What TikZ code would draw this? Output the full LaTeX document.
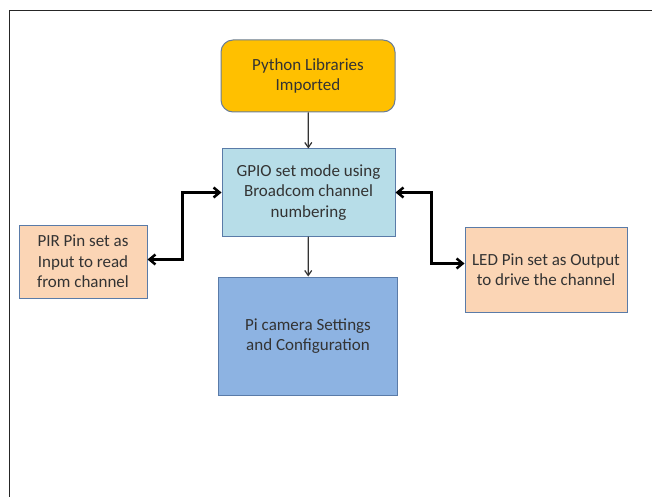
\documentclass[tikz,border=0pt]{standalone}
\usepackage{fontspec}
\setmainfont{Carlito}
\usepackage{tikz}
\usetikzlibrary{arrows.meta, positioning, calc, shapes}

\definecolor{pyorange}{HTML}{FFC000}
\definecolor{gpioblue}{HTML}{B7DDE8}
\definecolor{cameablue}{HTML}{8DB3E2}
\definecolor{pinpeach}{HTML}{FBD5B5}
\definecolor{boxedge}{HTML}{5A7BA8}
\definecolor{txtgray}{HTML}{333333}

\tikzset{
  block/.style={draw=boxedge, line width=1pt, align=center, inner sep=0pt,
    text=txtgray, font=\fontsize{17}{20.5}\selectfont},
  thinarrow/.style={draw=black!80, line width=1.2pt, -{Straight Barb[length=5pt,width=7pt]}},
  thickarrow/.style={draw=black, line width=2.5pt, {Straight Barb[length=6pt,width=10pt]}-{Straight Barb[length=6pt,width=10pt]}}
}

\begin{document}
\begin{tikzpicture}[x=1pt,y=-1pt]
\useasboundingbox (0,0) rectangle (652,497);
% page frame
\draw[line width=1.5pt, black!85] (9.5,497) -- (9.5,10.5) -- (652,10.5);

\node[block, fill=pyorange, draw=boxedge!60!gray, rounded corners=12pt, minimum width=174pt, minimum height=72pt]
  (python) at (308,76) {Python Libraries\\Imported};
\node[block, fill=gpioblue, minimum width=173pt, minimum height=87pt]
  (gpio) at (308.5,192.5) {GPIO set mode using\\Broadcom channel\\numbering};
\node[block, fill=cameablue, minimum width=179pt, minimum height=118pt]
  (camera) at (308,336) {Pi camera Settings\\and Configuration};
\node[block, fill=pinpeach, minimum width=128pt, minimum height=73pt]
  (pir) at (83,261.5) {PIR Pin set as\\Input to read\\from channel};
\node[block, fill=pinpeach, minimum width=162pt, minimum height=85pt]
  (led) at (546,269.5) {LED Pin set as Output\\to drive the channel};

\draw[thinarrow] (python) -- (gpio);
\draw[thinarrow] (gpio) -- (camera);
\draw[thickarrow] ([yshift=2pt]pir.east) -- ++(35,0) |- (gpio.west);
\draw[thickarrow] (gpio.east) -- ++(36,0) |- ([yshift=6pt]led.west);
\end{tikzpicture}
\end{document}
